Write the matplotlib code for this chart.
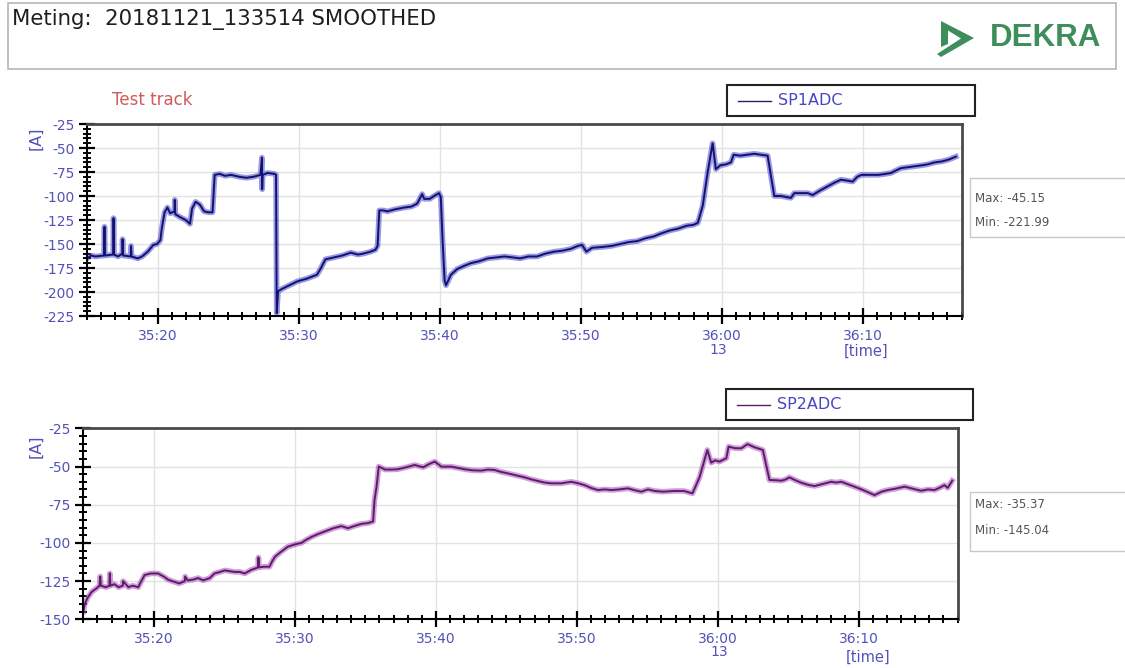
import matplotlib
matplotlib.use("Agg")
import matplotlib.pyplot as plt
from matplotlib.patches import Rectangle, Polygon
from matplotlib.ticker import MultipleLocator, FuncFormatter
from matplotlib.lines import Line2D

# ---------------- data (time in seconds after 35:00) ----------------
sp1_t = [15.0, 15.3, 15.6, 16.2, 16.24, 16.28, 16.85, 16.88, 16.92, 17.2, 17.5, 17.52, 17.56,
         18.1, 18.12, 18.16, 18.6, 18.9, 19.3, 19.7, 19.96, 20.2, 20.3, 20.5, 20.7, 20.9,
         21.2, 21.22, 21.26, 21.6, 22.0, 22.3, 22.45, 22.7, 23.0, 23.3, 23.6, 23.9, 24.05,
         24.4, 24.8, 25.2, 25.8, 26.3, 26.8, 27.3, 27.4, 27.42, 27.45, 27.8, 28.3, 28.4,
         28.45, 28.55, 28.8, 29.2, 29.9, 30.6, 31.3, 31.55, 31.9, 32.5, 33.1, 33.7, 34.2,
         34.6, 35.1, 35.45, 35.6, 35.72, 36.0, 36.3, 36.8, 37.5, 38.0, 38.4, 38.76, 38.9,
         39.3, 39.6, 39.95, 40.08, 40.2, 40.35, 40.45, 40.8, 41.25, 41.7, 42.2, 42.8, 43.4,
         44.0, 44.6, 45.2, 45.7, 46.3, 46.9, 47.5, 48.1, 48.7, 49.3, 49.8, 50.1, 50.4, 50.8,
         51.6, 52.2, 52.8, 53.4, 54.0, 54.6, 55.2, 55.7, 56.3, 56.9, 57.5, 58.0, 58.3, 58.65,
         59.0, 59.35, 59.58, 59.9, 60.3, 60.65, 60.84, 61.3, 61.8, 62.3, 62.8, 63.25, 63.5,
         63.72, 64.2, 64.9, 65.14, 65.6, 66.1, 66.44, 67.0, 67.5, 68.0, 68.45, 68.9, 69.28,
         69.6, 69.9, 70.5, 71.1, 71.6, 72.0, 72.4, 72.7, 73.2, 73.7, 74.2, 74.6, 75.1, 75.6,
         76.1, 76.6]
sp1_v = [-165, -162, -163, -162, -132, -162, -161, -123, -161, -163, -160, -145, -162,
         -163, -152, -163, -165, -163, -158, -151, -150, -146, -134, -117, -112, -118,
         -116, -104, -119, -122, -125, -129, -113, -106, -109, -116, -117, -117, -78,
         -77, -79, -78, -80, -81, -80, -78, -60, -93, -78, -76, -77, -78,
         -222, -199, -197, -194, -189, -186, -182, -176, -166, -164, -162, -159, -161,
         -160, -158, -156, -152, -115, -115, -116, -114, -112, -111, -108, -98, -103,
         -103, -100, -97, -101, -144, -188, -193, -182, -176, -173, -170, -168, -165,
         -164, -163, -164, -165, -163, -163, -160, -158, -157, -155, -152, -151, -158, -154,
         -153, -152, -150, -148, -147, -144, -142, -139, -136, -134, -131, -130, -128, -110,
         -75, -45.15, -72, -68, -67, -65, -57, -58, -57, -56, -57, -58, -80,
         -100, -100, -102, -97, -97, -97, -99, -94, -90, -86, -83, -84, -85,
         -80, -78, -78, -78, -77, -76, -73, -71, -70, -69, -68, -67, -65, -64,
         -62, -59]

sp2_t = [15.0, 15.1, 15.3, 15.6, 15.9, 16.15, 16.2, 16.25, 16.6, 16.85, 16.88, 16.92, 17.2,
         17.5, 17.8, 17.82, 18.2, 18.5, 18.9, 19.0, 19.35, 19.8, 20.3, 20.7, 21.0, 21.3,
         21.8, 22.2, 22.22, 22.4, 22.8, 23.14, 23.5, 23.97, 24.3, 24.7, 25.03, 25.4, 25.74,
         26.1, 26.45, 26.9, 27.4, 27.42, 27.45, 27.8, 28.2, 28.4, 28.6, 29.0, 29.5, 30.0,
         30.47, 30.8, 31.2, 31.7, 32.1, 32.7, 33.3, 33.77, 34.2, 34.7, 35.2, 35.55, 35.65,
         35.8, 35.95, 36.4, 36.9, 37.3, 37.9, 38.5, 39.1, 39.5, 39.92, 40.4, 41.1, 41.6,
         42.05, 42.6, 43.23, 43.7, 44.17, 44.6, 45.1, 45.7, 46.3, 46.8, 47.24, 47.7, 48.19,
         48.9, 49.6, 50.1, 50.55, 51.0, 51.49, 52.0, 52.44, 53.0, 53.62, 54.1, 54.57, 55.04,
         55.5, 56.1, 56.9, 57.6, 58.2, 58.7, 59.25, 59.53, 59.8, 60.12, 60.6, 60.76, 61.2,
         61.66, 62.1, 62.6, 63.19, 63.4, 63.66, 64.1, 64.5, 64.8, 65.08, 65.5, 65.91, 66.4,
         66.86, 67.4, 68.04, 68.4, 68.75, 69.2, 69.69, 70.2, 70.7, 71.11, 71.6, 72.05, 72.6,
         73.24, 73.8, 74.42, 74.9, 75.36, 75.7, 76.07, 76.3, 76.62]
sp2_v = [-145, -140, -136, -132, -130, -128, -122, -128, -129, -128, -120, -128, -127,
         -129, -128, -125, -129, -128, -129, -127, -121, -120, -120, -122, -124, -125,
         -126.5, -125, -122, -124.5, -124, -123, -124.5, -123, -120, -119, -118, -118.5, -119,
         -119, -120, -117.7, -116, -109.5, -116, -115.6, -115.6, -112, -109, -106, -102.5, -101,
         -100, -98, -96, -94, -92.6, -90.5, -89, -90.4, -89, -87.6, -87, -86, -72,
         -63, -50, -52, -52, -51.8, -50.5, -49, -50.5, -48.5, -46.8, -50.1, -50.1, -51,
         -51.8, -52.5, -52.7, -52, -52.3, -53.5, -54.5, -55.8, -57.1, -58.5, -59.5, -60.5, -61,
         -61, -60, -61, -62.2, -64, -65.4, -65, -65.4, -65, -64.3, -65.5, -66.5, -65,
         -66, -66.5, -66, -66, -67.6, -57, -39.2, -47.5, -46, -46.8, -44.6, -37, -38,
         -38.1, -35.37, -37.4, -39.2, -48, -58.8, -59, -59.3, -58.5, -57.1, -59, -60.6, -62,
         -62.8, -61.5, -60, -60.5, -60, -61.5, -63.2, -65, -67, -68.7, -66.5, -65.4, -64.5,
         -63.2, -64.5, -65.9, -65, -65.4, -64, -62.2, -64, -59.3]

x_major = [20, 30, 40, 50, 60, 70]
y1_ticks = [-225, -200, -175, -150, -125, -100, -75, -50, -25]
y2_ticks = [-150, -125, -100, -75, -50, -25]
header = "Meting:  20181121_133514 SMOOTHED"
stats1 = ("Max: -45.15", "Min: -221.99")
stats2 = ("Max: -35.37", "Min: -145.04")

# ---------------- figure ----------------
plt.rcParams['font.family'] = ['DejaVu Sans']
plt.rcParams['axes.unicode_minus'] = False

W, H = 1125, 668
fig = plt.figure(figsize=(W / 100, H / 100), dpi=100)

def fx(x):
    return x / W

def fy(y):
    return 1 - y / H

TICKC = '#5252b8'

def mmss(v, pos=None):
    m = 35 + int(v // 60)
    s = int(round(v % 60))
    return f"{m}:{s:02d}"

def style_axes(ax, yticks, ylim):
    ax.set_xlim(15, 77.05)
    ax.set_ylim(*ylim)
    ax.set_xticks(x_major)
    ax.xaxis.set_major_formatter(FuncFormatter(mmss))
    ax.xaxis.set_minor_locator(MultipleLocator(1))
    ax.set_yticks(yticks)
    ax.yaxis.set_minor_locator(MultipleLocator(5))
    ax.grid(True, which='major', color='#e2e2e2', lw=1.0)
    ax.set_axisbelow(True)
    ax.tick_params(which='major', direction='inout', length=12, width=1.6,
                   color='black', labelsize=10, labelcolor=TICKC, pad=3)
    ax.tick_params(which='minor', direction='inout', length=6, width=1.4, color='black')
    for s in ('left', 'bottom'):
        ax.spines[s].set_color('black')
        ax.spines[s].set_linewidth(1.5)
    for s in ('top', 'right'):
        ax.spines[s].set_color('#4a4a4a')
        ax.spines[s].set_linewidth(2.0)

# top axes
ax1 = fig.add_axes([fx(87), fy(316), fx(962.3) - fx(87), fy(124) - fy(316)])
style_axes(ax1, y1_ticks, (-225, -25))
ax1.plot(sp1_t, sp1_v, color='#3434cc', lw=4.0, alpha=0.5, solid_joinstyle='round')
ax1.plot(sp1_t, sp1_v, color='#12126e', lw=1.4)

# bottom axes
ax2 = fig.add_axes([fx(83.3), fy(619.3), fx(958.3) - fx(83.3), fy(428.3) - fy(619.3)])
style_axes(ax2, y2_ticks, (-150, -25))
ax2.plot(sp2_t, sp2_v, color='#b04cc4', lw=4.0, alpha=0.55, solid_joinstyle='round')
ax2.plot(sp2_t, sp2_v, color='#5a1f62', lw=1.4)

# y labels "[A]"
fig.text(fx(36), fy(138), "[A]", rotation=90, color=TICKC, fontsize=11.5,
         ha='center', va='center')
fig.text(fx(36), fy(446), "[A]", rotation=90, color=TICKC, fontsize=11.5,
         ha='center', va='center')

# extra x labels
fig.text(fx(718), fy(350), "13", color=TICKC, fontsize=10, ha='center', va='center')
fig.text(fx(866), fy(351), "[time]", color=TICKC, fontsize=10.5, ha='center', va='center')
fig.text(fx(719), fy(652), "13", color=TICKC, fontsize=10, ha='center', va='center')
fig.text(fx(868), fy(657), "[time]", color=TICKC, fontsize=10.5, ha='center', va='center')

# header box
fig.patches.append(Rectangle((fx(8), fy(69)), fx(1116) - fx(8), fy(3) - fy(69),
                             transform=fig.transFigure, fill=False,
                             edgecolor='#b5b5b5', lw=1.2))
fig.text(fx(12), fy(19), header, fontsize=15.3, color='#1e1e1e', ha='left', va='center')

# DEKRA logo
GREEN = '#3e8e5b'
chev = [(941, 21), (974, 38), (941, 57), (937, 54), (961, 38.5), (948, 30.5),
        (948, 44), (941, 47)]
fig.patches.append(Polygon([(fx(a), fy(b)) for a, b in chev], closed=True,
                           transform=fig.transFigure, facecolor=GREEN, edgecolor='none'))
fig.text(fx(990), fy(38), "DEKRA", fontsize=22.5, fontweight='bold', color=GREEN,
         family='Liberation Sans', ha='left', va='center')

# Test track
fig.text(fx(112), fy(100), "Test track", fontsize=12, color='#d05a5a', ha='left', va='center')

# legend boxes
def legend_box(x0, y0, x1, y1, label, lcolor):
    fig.patches.append(Rectangle((fx(x0), fy(y1)), fx(x1) - fx(x0), fy(y0) - fy(y1),
                                 transform=fig.transFigure, facecolor='white',
                                 edgecolor='#222222', lw=1.5))
    ym = (y0 + y1) / 2
    fig.lines.append(Line2D([fx(x0 + 11), fx(x0 + 44)], [fy(ym), fy(ym)],
                            transform=fig.transFigure, color=lcolor, lw=1.0))
    fig.text(fx(x0 + 51), fy(ym), label, fontsize=11.5, color='#4646c0',
             ha='left', va='center')

legend_box(727, 85, 975, 116, "SP1ADC", '#202070')
legend_box(726, 389, 973, 420, "SP2ADC", '#5a1f62')

# stats boxes
def stats_box(y0, y1, lines, ys):
    fig.patches.append(Rectangle((fx(970), fy(y1)), fx(1130) - fx(970), fy(y0) - fy(y1),
                                 transform=fig.transFigure, facecolor='white',
                                 edgecolor='#c8c8c8', lw=1.0, clip_on=False))
    for txt, yy in zip(lines, ys):
        fig.text(fx(975), fy(yy), txt, fontsize=8.5, color='#555555', ha='left', va='center')

stats_box(178, 237, stats1, (199, 222))
stats_box(492, 551, stats2, (505, 530))

fig.savefig("out.png", dpi=100)
